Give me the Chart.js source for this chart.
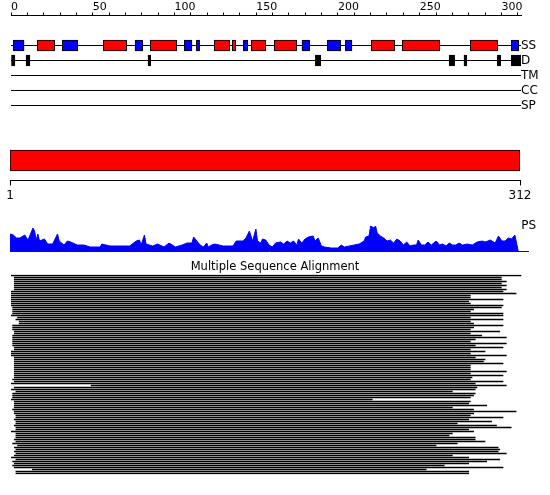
<!DOCTYPE html>
<html><head><meta charset="utf-8">
<script src="https://cdn.jsdelivr.net/npm/chart.js@4.4.0/dist/chart.umd.min.js"></script>
<style>
html,body{margin:0;padding:0;background:#fff;width:550px;height:495px;overflow:hidden;position:relative;}
canvas{position:absolute;left:0;}
</style></head><body>
<canvas id="tracks" width="550" height="121" style="top:0px;width:550px;height:121px"></canvas>
<canvas id="domain" width="550" height="70" style="top:140px;width:550px;height:70px"></canvas>
<canvas id="ps" width="550" height="40" style="top:215px;width:550px;height:40px"></canvas>
<canvas id="msa" width="550" height="239" style="top:256px;width:550px;height:239px"></canvas>
<script>
// ---------------- data ----------------
const SEQ_LENGTH = 312;
const rulerTicks = [0,10,20,30,40,50,60,70,80,90,100,110,120,130,140,150,160,170,180,190,200,210,220,230,240,250,260,270,280,290,300,310];
const rulerLabels = [0,50,100,150,200,250,300];
const trackRows = ['', '', 'SS', 'D', 'TM', 'CC', 'SP', ''];
const trackLabels = ['SS', 'D', 'TM', 'CC', 'SP'];
const helixSegments = [[16.1,26.7],[56.5,70.8],[85.2,101.4],[124.4,133.8],[135.4,137.5],[147.0,155.8],[161.1,174.8],[220.4,234.7],[239.4,262.3],[281.0,297.7]];
const strandSegments = [[1.4,8.0],[31.4,40.8],[75.9,80.6],[106.0,110.7],[113.4,115.4],[142.1,144.8],[178.0,182.7],[193.5,201.7],[204.5,208.6],[306.1,310.6]];
const disorderSegments = [[0,2.4],[9.2,11.6],[83.8,85.5],[186.2,189.5],[268.0,271.4],[277.1,278.8],[297.5,299.6],[306.1,311.9]];
const domainRange = [1, 312];
const domainTicks = [1, 312];
const psPositions = [1,3,5,7,9,10,12,15,16,17,18,19,22,24,27,30,31,34,36,38,42,46,50,56,57,62,68,74,78,80,81,83,84,88,91,95,98,102,106,109,112,113,115,117,119,121,122,124,126,131,137,139,143,145,147,149,151,152,154,155,157,159,161,163,166,168,170,172,174,176,177,179,181,183,186,187,189,191,193,197,201,203,205,208,211,214,217,218,220,221,223,224,225,227,229,231,233,235,237,239,241,243,245,247,249,250,252,254,256,258,261,263,265,267,269,271,273,275,277,280,283,286,289,291,294,297,299,301,303,305,307,309,310,311];
const psScores = [17,16,13,13,15,16,11,23,20,11,17,10,12,7,7,17,10,6,10,9,6,6,4,4,7,5,5,5,10,11,6,16,7,5,7,4,8,4,6,8,8,14,10,6,4,8,4,6,7,5,5,10,10,13,20,10,22,10,8,12,11,6,4,8,9,7,10,8,10,6,12,8,12,14,15,10,13,5,4,3,3,6,4,5,6,7,10,14,15,25,23,25,18,15,13,10,11,8,12,10,6,9,5,6,6,11,6,6,9,6,10,6,7,5,8,6,6,8,6,7,6,9,10,9,11,8,15,10,10,13,12,16,8,0];
const psTickValue = 25;
const msaStarts = [0,2,2,2,2,2,2,2,0,0, 0,0,0,0,0,0,1,1,1,1, 0,4,3,5,5,1,1,1,2,2, 1,1,1,1,1,1,2,2,0,0, 0,2,2,2,2,2,2,2,2,2, 2,2,1,2,0,49,2,0,3,1, 1,1,0,2,2,2,2,1,2,2, 3,3,2,3,3,2,3,3,0,3, 3,3,2,3,1,4,2,3,2,3, 2,0,3,1,2,1,2,13,3,3];
const msaEnds = [312,300,300,303,300,303,300,303,301,309, 281,281,301,280,281,301,300,283,281,301, 301,281,301,281,283,301,283,281,299,281, 288,303,284,281,303,284,301,281,290,281, 303,284,290,289,301,281,281,281,303,281, 301,282,281,301,284,303,285,284,270,284, 283,281,221,281,280,291,270,283,309,283, 281,301,280,294,273,297,306,280,283,270, 268,284,284,290,273,260,298,299,298,303, 270,280,299,291,280,265,301,254,280,280];
const msaTitle = 'Multiple Sequence Alignment';

// ---------------- helpers ----------------
const FONT = 'DejaVu Sans';
const noPad = s => { s.paddingLeft = 0; s.paddingRight = 0; s.paddingTop = 0; s.paddingBottom = 0; };
const toBars = (segs, row) => segs.map(([a, b]) => ({x: [a, b], y: row}));
const common = {responsive: false, animation: false, events: [],
  plugins: {legend: {display: false}, tooltip: {enabled: false}}};

// ---------------- tracks ----------------
new Chart(document.getElementById('tracks'), {
  type: 'bar',
  data: {
    labels: trackRows,
    datasets: [
      {data: toBars(helixSegments, 'SS'), backgroundColor: '#ff0000'},
      {data: toBars(strandSegments, 'SS'), backgroundColor: '#0000ff'},
      {data: toBars(disorderSegments, 'D'), backgroundColor: '#000000'}
    ].map(d => Object.assign(d, {borderColor: '#000', borderWidth: 1, borderSkipped: false, barThickness: 11, grouped: false}))
  },
  options: Object.assign({}, common, {
    indexAxis: 'y',
    layout: {padding: {left: 11, right: 0, top: 0, bottom: 0.5}},
    scales: {
      x: {
        type: 'linear', position: 'top', min: 0, max: SEQ_LENGTH,
        afterBuildTicks: s => { s.ticks = rulerTicks.map(v => ({value: v})); },
        afterFit: s => { s.height = 15.5; noPad(s); },
        grid: {drawOnChartArea: false, drawTicks: true, tickLength: 3, tickColor: '#000', color: '#000'},
        border: {display: true, color: '#000', width: 1},
        ticks: {autoSkip: false, maxRotation: 0, minRotation: 0, align: 'start', padding: -1, color: '#000',
          font: {family: FONT, size: 11},
          callback: v => rulerLabels.includes(v) ? String(v) : ''}
      },
      y: {
        type: 'category', position: 'right', offset: false,
        afterFit: s => { s.width = 29; noPad(s); },
        grid: {offset: false, drawTicks: false, lineWidth: 1,
          color: ctx => trackLabels.includes(trackRows[ctx.index]) ? '#000' : 'rgba(0,0,0,0)'},
        border: {display: false},
        ticks: {padding: 0, autoSkip: false, color: '#000', font: {family: FONT, size: 12}}
      }
    }
  })
});

// ---------------- domain bar ----------------
new Chart(document.getElementById('domain'), {
  type: 'bar',
  data: {
    labels: ['domain'],
    datasets: [{data: [{x: domainRange, y: 'domain'}], backgroundColor: '#ff0000', borderColor: '#000',
      borderWidth: 1, borderSkipped: false, barThickness: 21, grouped: false}]
  },
  options: Object.assign({}, common, {
    indexAxis: 'y',
    layout: {padding: {left: 10, right: 30, top: 0.5, bottom: 0}},
    scales: {
      x: {
        type: 'linear', position: 'bottom', min: domainRange[0], max: domainRange[1],
        afterBuildTicks: s => { s.ticks = domainTicks.map(v => ({value: v})); },
        afterFit: s => { s.height = 29.5; noPad(s); },
        grid: {drawOnChartArea: false, drawTicks: true, tickLength: 5, tickColor: '#000', color: '#000'},
        border: {display: true, color: '#000', width: 1},
        ticks: {autoSkip: false, maxRotation: 0, minRotation: 0, padding: 3.5, color: '#000',
          font: {family: FONT, size: 12}, callback: v => String(v)}
      },
      y: {display: false}
    }
  })
});

// ---------------- PS profile ----------------
new Chart(document.getElementById('ps'), {
  type: 'line',
  data: {
    datasets: [{data: psPositions.map((p, i) => ({x: p, y: psScores[i]})), fill: 'origin',
      backgroundColor: '#0000ff', borderColor: '#0000ff', borderWidth: 1, pointRadius: 0, tension: 0}]
  },
  options: Object.assign({}, common, {
    layout: {padding: {left: 10, right: 0, top: 10, bottom: 4}},
    scales: {
      x: {
        type: 'linear', min: 1, max: 317,
        afterFit: s => { s.height = 0; noPad(s); },
        grid: {display: false},
        border: {display: true, color: '#0000ff', width: 1},
        ticks: {display: false}
      },
      y: {
        type: 'linear', position: 'right', min: 0, max: 26,
        afterBuildTicks: s => { s.ticks = [{value: psTickValue}]; },
        afterFit: s => { s.width = 22; noPad(s); },
        grid: {display: false, drawTicks: false},
        border: {display: false},
        ticks: {mirror: true, crossAlign: 'far', padding: 8, color: '#000',
          font: {family: FONT, size: 12}, callback: () => 'PS'}
      }
    }
  })
});

// ---------------- MSA ----------------
// symmetric side padding (11px each) so the title is centred on the page;
// the x range is widened so residue 312 still falls at the track end.
const MSA_X_MAX = SEQ_LENGTH * 528 / 510;
new Chart(document.getElementById('msa'), {
  type: 'bar',
  data: {
    labels: msaStarts.map((_, i) => 'seq' + (i + 1)),
    datasets: [{data: msaStarts.map((s, i) => [s, msaEnds[i]]), backgroundColor: '#000',
      borderWidth: 0, barThickness: 1, grouped: false}]
  },
  options: Object.assign({}, common, {
    indexAxis: 'y',
    layout: {padding: {left: 11, right: 11, top: 0, bottom: 20.5}},
    plugins: {
      legend: {display: false}, tooltip: {enabled: false},
      title: {display: true, text: msaTitle, color: '#000',
        font: {family: FONT, size: 11.5, weight: 'normal'}, padding: {top: 4.2, bottom: 0.5}}
    },
    scales: {
      x: {type: 'linear', min: 0, max: MSA_X_MAX, display: false},
      y: {type: 'category', display: false}
    }
  })
});
</script>
</body></html>
